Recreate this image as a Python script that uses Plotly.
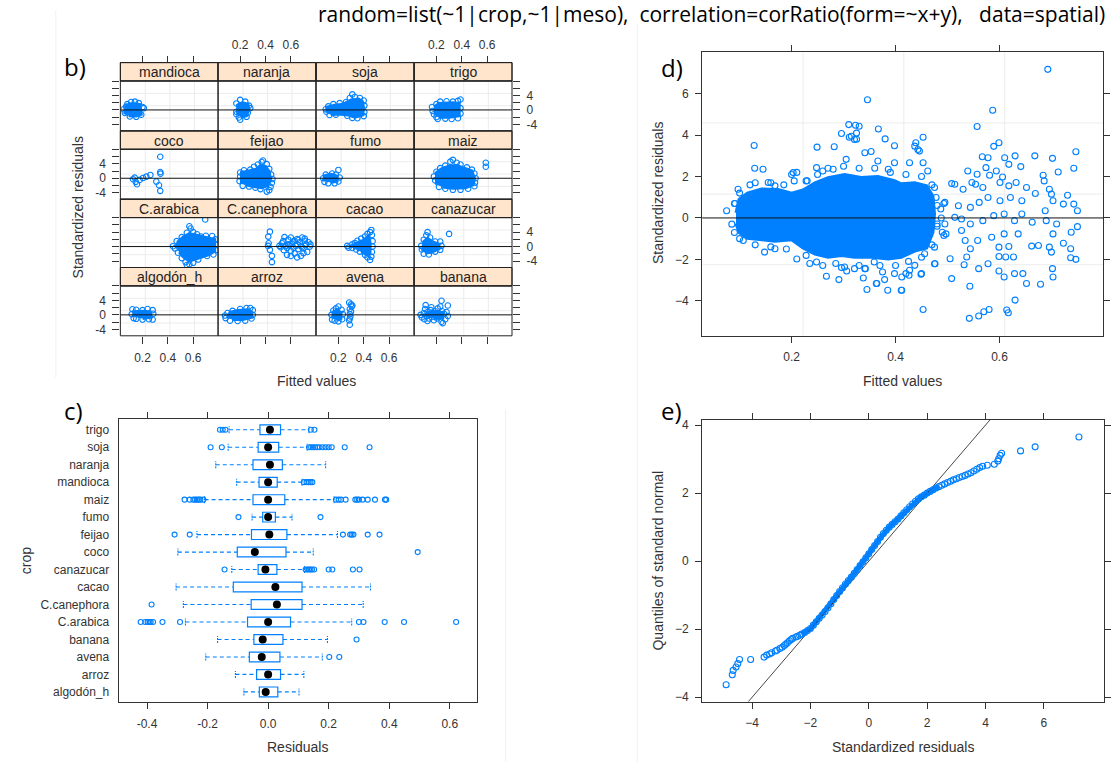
import plotly.graph_objects as go

W, H = 1111, 765
BLUE = "#0080ff"
AXC = "#333333"
TICKFONT = dict(family="Liberation Sans, Arial, sans-serif", size=12, color="#333333")

# ------------------------------------------------------------------ data
title_text = "random=list(~1|crop,~1|meso), \u00a0correlation=corRatio(form=~x+y), \u00a0\u00a0data=spatial)"

# ---- b) trellis of standardized residuals vs fitted values, by crop
fit_range_b = [0.025, 0.797]
res_range_b = [-5.8, 8.02]
fit_ticks = [0.2, 0.4, 0.6]
fit_labels = ["0.2", "0.4", "0.6"]
res_ticks_b = [-4, -2, 0, 2, 4, 6, 8]
res_labels_b = ["-4", "", "0", "", "4", "", ""]
grid_fit = [0.222, 0.416, 0.61]
grid_res = [4.59, 1.15, -2.26]

facet_rows = [["mandioca", "naranja", "soja", "trigo"],
              ["coco", "feijao", "fumo", "maiz"],
              ["C.arabica", "C.canephora", "cacao", "canazucar"],
              ["algodón_h", "arroz", "avena", "banana"]]

core_mandioca = [(0.06, -1.2), (0.07, 1.3), (0.12, 1.8), (0.18, 1.5), (0.19, -1.2), (0.15, -1.7), (0.09, -1.6)]
pts_mandioca = [(0.05, 0.2), (0.06, -0.8), (0.08, 1.6), (0.11, 2.2), (0.14, 2.3), (0.17, 1.9), (0.2, 0.8),
                (0.19, -1.3), (0.15, -1.9), (0.1, -1.8), (0.07, 0.9), (0.16, 0.2), (0.21, 0.5)]
core_naranja = [(0.18, -1.5), (0.18, 1.4), (0.22, 2.0), (0.26, 1.6), (0.27, 0.2), (0.25, -1.6), (0.21, -2.0)]
pts_naranja = [(0.2, 2.8), (0.17, 1.8), (0.24, 2.3), (0.27, 1.2), (0.28, 0.5), (0.17, -0.5), (0.17, -1.2),
               (0.19, -2.1), (0.2, -2.7), (0.25, -1.9), (0.26, -0.8), (0.23, 0.6)]
core_soja = [(0.11, -0.8), (0.11, 0.8), (0.17, 1.3), (0.24, 1.6), (0.3, 2.8), (0.36, 3.0), (0.39, 2.3),
             (0.4, 0.4), (0.39, -1.4), (0.33, -2.0), (0.28, -1.4), (0.2, -1.1), (0.14, -1.3)]
pts_soja = [(0.1, 0.2), (0.105, -0.5), (0.12, 1.0), (0.16, 1.6), (0.21, 1.9), (0.26, 2.2), (0.29, 3.3),
            (0.31, 4.3), (0.33, 3.6), (0.37, 3.3), (0.4, 2.6), (0.405, 1.2), (0.405, -0.6), (0.4, -1.7),
            (0.35, -2.3), (0.31, -2.2), (0.27, -1.6), (0.18, -1.3), (0.13, -1.4)]
core_trigo = [(0.19, -1.5), (0.19, 1.0), (0.22, 1.8), (0.33, 2.0), (0.38, 1.8), (0.38, -1.6), (0.3, -2.0), (0.22, -2.0)]
pts_trigo = [(0.165, 0.8), (0.17, -0.3), (0.18, -1.2), (0.2, 1.6), (0.23, 2.3), (0.28, 2.4), (0.33, 2.3),
             (0.37, 2.5), (0.39, 2.9), (0.39, 0.5), (0.39, -1.0), (0.37, -2.3), (0.32, -2.5), (0.27, -2.4),
             (0.21, -2.5), (0.2, -2.0)]
core_coco = []
pts_coco = [(0.34, 5.96), (0.34, 1.74), (0.342, 1.28), (0.309, -0.92), (0.33, -1.93), (0.34, -3.49),
            (0.125, -0.28), (0.146, -1.0), (0.156, -1.65), (0.177, -0.46), (0.204, 0.09), (0.23, 0.46),
            (0.262, 0.92), (0.138, 0.18)]
core_feijao = [(0.21, -1.6), (0.21, 1.6), (0.27, 2.0), (0.33, 2.6), (0.36, 3.5), (0.4, 3.3), (0.43, 1.8),
               (0.44, -0.5), (0.42, -2.0), (0.37, -2.6), (0.3, -2.2), (0.25, -1.9)]
pts_feijao = [(0.2, 0.5), (0.195, -0.8), (0.2, 1.6), (0.23, 2.2), (0.28, 2.4), (0.31, 3.2), (0.34, 3.8),
              (0.37, 4.5), (0.38, 4.9), (0.41, 3.9), (0.43, 2.6), (0.445, 1.0), (0.455, -0.2), (0.45, -1.3),
              (0.44, -2.4), (0.43, -3.3), (0.41, -3.7), (0.36, -3.0), (0.32, -2.6), (0.27, -2.3), (0.22, -2.1)]
core_fumo = [(0.085, -0.8), (0.09, 0.7), (0.14, 1.1), (0.19, 0.6), (0.19, -0.8), (0.14, -1.2)]
pts_fumo = [(0.08, 0.0), (0.1, 1.0), (0.15, 1.3), (0.18, 1.0), (0.2, 2.3), (0.21, 0.2), (0.2, -0.9),
            (0.17, -1.4), (0.12, -1.4), (0.09, -1.0)]
core_maiz = [(0.2, -1.8), (0.2, 1.5), (0.24, 2.6), (0.3, 3.4), (0.36, 3.5), (0.42, 2.8), (0.48, 2.0),
             (0.5, 0.0), (0.49, -1.8), (0.43, -2.6), (0.33, -2.8), (0.25, -2.4)]
pts_maiz = [(0.18, 0.5), (0.19, -0.6), (0.2, 1.8), (0.23, 2.8), (0.27, 3.5), (0.31, 4.6), (0.33, 5.1),
            (0.36, 4.3), (0.39, 3.8), (0.44, 3.0), (0.48, 2.4), (0.5, 1.3), (0.51, 0.0), (0.505, -1.2),
            (0.5, -2.2), (0.45, -2.9), (0.39, -3.2), (0.33, -3.2), (0.27, -2.9), (0.22, -2.4), (0.59, 4.3),
            (0.59, 3.2)]
core_carabica = [(0.47, -0.6), (0.48, 1.3), (0.52, 2.6), (0.57, 3.6), (0.64, 3.0), (0.72, 2.5), (0.77, 2.0),
                 (0.77, -1.3), (0.72, -2.3), (0.63, -3.3), (0.57, -4.0), (0.52, -2.8), (0.49, -1.5)]
pts_carabica = [(0.44, 0.1), (0.455, -0.5), (0.47, 1.5), (0.51, 2.6), (0.55, 3.8), (0.58, 5.0), (0.57, 5.6),
                (0.6, 4.0), (0.63, 3.4), (0.66, 2.8), (0.7, 3.0), (0.695, 7.5), (0.75, 2.9), (0.775, 2.0),
                (0.78, 0.5), (0.78, -1.0), (0.76, -2.2), (0.71, -2.6), (0.68, -2.0), (0.64, -3.6), (0.6, -4.5),
                (0.57, -4.9), (0.54, -4.3), (0.51, -3.2), (0.48, -1.7), (0.55, -5.1)]
core_ccanephora = []
pts_ccanephora = [(0.422, 2.75), (0.435, 4.13), (0.425, 0.92), (0.435, -0.92), (0.451, -2.57), (0.451, -4.3),
                  (0.42, 0.2), (0.51, 0.2), (0.52, -0.2), (0.53, 0.9), (0.54, 1.5), (0.55, 2.6), (0.56, 0.1),
                  (0.57, -0.4), (0.58, 1.9), (0.59, 0.3), (0.6, -1.2), (0.6, 2.5), (0.61, 0.8), (0.62, -0.3),
                  (0.63, 1.6), (0.64, 0.2), (0.65, 2.1), (0.66, -0.7), (0.67, 1.2), (0.68, 0.1), (0.69, 2.5),
                  (0.7, -0.5), (0.71, 1.6), (0.72, 0.5), (0.73, -1.5), (0.74, 1.2), (0.75, 0.0), (0.755, 0.6),
                  (0.57, -2.3), (0.6, -2.6), (0.63, -1.9), (0.65, -3.0), (0.68, -2.6), (0.7, -1.8), (0.545, -1.0),
                  (0.62, 1.4), (0.58, 0.6), (0.66, 1.8), (0.69, -0.2), (0.71, 2.2)]
core_cacao = [(0.29, 0.0), (0.4, 1.8), (0.44, 3.0), (0.45, 1.0), (0.45, -1.5), (0.44, -2.5), (0.38, -1.5)]
pts_cacao = [(0.27, 0.2), (0.28, -0.3), (0.31, 0.6), (0.33, 1.0), (0.35, 1.6), (0.38, 2.2), (0.41, 2.8),
             (0.43, 3.5), (0.45, 4.0), (0.46, 4.6), (0.465, 3.2), (0.47, 1.5), (0.47, 0.0), (0.465, -1.5),
             (0.46, -2.8), (0.45, -3.7), (0.43, -3.0), (0.41, -2.3), (0.37, -1.4), (0.34, -0.8), (0.31, -0.4)]
core_canazucar = [(0.09, -1.2), (0.1, 1.4), (0.13, 2.2), (0.17, 1.3), (0.22, 0.6), (0.22, -0.6), (0.16, -1.6), (0.11, -1.8)]
pts_canazucar = [(0.08, 0.2), (0.085, -0.8), (0.1, 1.9), (0.12, 3.1), (0.13, 4.0), (0.15, 2.5), (0.19, 1.4),
                 (0.23, 1.4), (0.24, 0.2), (0.23, -0.9), (0.19, -1.4), (0.14, -2.2), (0.1, -2.0), (0.3, 3.5)]
core_algodon = [(0.13, -0.6), (0.13, 0.9), (0.2, 1.0), (0.26, 0.9), (0.27, -0.6), (0.2, -1.0)]
pts_algodon = [(0.12, 1.56), (0.115, 0.2), (0.15, 1.4), (0.2, 1.3), (0.24, 1.6), (0.28, 1.3), (0.285, 0.3),
               (0.28, -1.3), (0.25, -1.2), (0.2, -1.3), (0.15, -1.1), (0.13, -0.9)]
core_arroz = [(0.1, -0.9), (0.12, 0.7), (0.18, 1.2), (0.26, 1.4), (0.29, 0.8), (0.29, -0.7), (0.22, -1.3), (0.14, -1.3)]
pts_arroz = [(0.08, -0.2), (0.085, -0.9), (0.1, 0.5), (0.14, 1.1), (0.2, 1.6), (0.25, 1.9), (0.28, 1.9),
             (0.3, 1.3), (0.3, 0.0), (0.29, -1.0), (0.24, -1.6), (0.18, -1.7), (0.12, -1.6)]
core_avena = [(0.155, -1.0), (0.16, 0.8), (0.19, 1.4), (0.22, 0.6), (0.22, -1.0), (0.19, -1.5)]
pts_avena = [(0.145, 0.0), (0.15, -1.3), (0.16, 1.2), (0.18, 1.8), (0.2, 2.3), (0.225, 1.4), (0.235, 0.2),
             (0.23, -1.2), (0.2, -1.8), (0.17, -1.6), (0.285, 3.4), (0.3, 2.9), (0.305, 2.3), (0.29, 1.6),
             (0.3, 0.9), (0.29, 0.2), (0.295, -0.46), (0.29, -1.0), (0.285, -1.56), (0.29, -2.75), (0.31, 2.6)]
core_banana = [(0.12, -0.6), (0.13, 0.6), (0.2, 0.9), (0.25, 0.5), (0.25, -0.8), (0.18, -1.0)]
pts_banana = [(0.075, 0.0), (0.085, -0.7), (0.1, 0.5), (0.105, -1.2), (0.11, 1.6), (0.115, 2.7), (0.12, -0.3),
              (0.13, 0.8), (0.14, -1.0), (0.15, 0.2), (0.155, 1.3), (0.165, -0.6), (0.17, 0.5), (0.18, -1.5),
              (0.19, 1.0), (0.2, 0.0), (0.205, -1.0), (0.21, 1.8), (0.22, 0.4), (0.225, -0.5), (0.23, 2.3),
              (0.24, 3.9), (0.24, -1.9), (0.245, 1.0), (0.25, -2.3), (0.26, 0.3), (0.27, -1.2), (0.28, 0.8),
              (0.29, 2.6), (0.29, -0.3), (0.13, -1.7), (0.16, 2.1)]

# ---- d) all points
fit_range_d = [0.028, 0.80]
res_range_d = [-5.68, 8.0]
core_d = [(0.093, 0.25), (0.099, 0.9), (0.115, 1.2), (0.142, 1.4), (0.174, 1.38), (0.200, 1.2),
          (0.222, 1.35), (0.245, 1.7), (0.270, 1.95), (0.302, 2.1), (0.334, 1.95), (0.366, 2.0),
          (0.398, 1.8), (0.411, 1.65), (0.437, 1.7), (0.46, 1.55), (0.472, 1.05), (0.475, 0.19),
          (0.472, -0.7), (0.46, -1.45), (0.437, -1.6), (0.411, -1.9), (0.386, -1.98), (0.353, -1.9),
          (0.321, -1.9), (0.296, -1.82), (0.270, -1.9), (0.245, -1.75), (0.222, -1.45), (0.200, -1.05),
          (0.168, -1.12), (0.142, -1.05), (0.115, -0.98), (0.099, -0.7), (0.093, -0.27)]
fringe_d = [(0.075, 0.35), (0.09, 0.7), (0.085, -0.3), (0.09, -0.7), (0.1, -1.0), (0.1, 1.2), (0.12, 1.6),
            (0.13, 1.7), (0.16, 1.7), (0.185, 1.6), (0.2, 2.1), (0.21, 2.2), (0.13, -1.3), (0.16, -1.4),
            (0.19, -1.5), (0.235, -2.2), (0.26, -2.3), (0.285, -2.2), (0.33, -2.3), (0.37, -2.3), (0.4, -2.3),
            (0.425, -2.1), (0.45, -1.9), (0.47, -1.3), (0.48, -0.4), (0.48, 0.6), (0.47, 1.6), (0.45, 2.0),
            (0.42, 2.1), (0.39, 2.2), (0.36, 2.4), (0.33, 2.4), (0.3, 2.5), (0.27, 2.4), (0.25, 2.1), (0.23, 1.8),
            (0.129, 2.40), (0.145, 2.35), (0.097, 1.39), (0.091, 0.70), (0.155, 1.71), (0.168, 1.55),
            (0.203, 2.19), (0.205, 1.79), (0.228, 1.79), (0.248, 2.43), (0.26, 2.27), (0.28, 2.35), (0.305, 2.83),
            (0.315, 3.95), (0.321, 3.79), (0.341, 3.15), (0.353, 3.21), (0.366, 2.75), (0.398, 2.67), (0.386, 2.35),
            (0.427, 2.67), (0.437, 3.47), (0.443, 3.31), (0.453, 2.67), (0.462, 2.27), (0.475, 1.47), (0.478, 0.99),
            (0.495, 0.75), (0.514, 1.63), (0.488, 0.0), (0.497, -0.77), (0.495, -0.29), (0.107, -1.09),
            (0.148, -1.65), (0.168, -1.49), (0.228, -1.81), (0.248, -2.13), (0.302, -2.37), (0.321, -2.45),
            (0.341, -2.45), (0.363, -3.17), (0.411, -3.49), (0.375, -2.61), (0.398, -2.69), (0.42, -2.69),
            (0.437, -2.29), (0.45, -2.69), (0.456, -1.73), (0.475, -2.21), (0.475, -1.41), (0.359, -2.13),
            (0.283, -1.73)]
scatter_d = [(0.693, 7.18), (0.346, 5.71), (0.587, 5.2), (0.557, 4.42), (0.31, 4.51), (0.323, 4.48), (0.33, 4.43),
             (0.367, 4.3), (0.296, 4.08), (0.311, 3.9), (0.325, 4.1), (0.325, 3.8), (0.38, 3.82), (0.453, 3.9),
             (0.439, 3.63), (0.446, 3.23), (0.398, 3.49), (0.249, 3.42), (0.282, 3.44), (0.128, 3.5), (0.599, 3.63),
             (0.589, 3.46), (0.747, 3.2), (0.702, 2.88), (0.668, 3.0), (0.63, 3.0), (0.567, 2.96), (0.578, 2.91),
             (0.61, 2.91), (0.743, 2.4), (0.713, 2.22), (0.641, 2.48), (0.618, 2.59), (0.539, 2.27), (0.684, 2.06),
             (0.508, 1.66), (0.731, 1.1), (0.652, 1.47), (0.581, 2.06), (0.554, 1.63), (0.568, 1.47), (0.669, 1.18),
             (0.743, 0.67), (0.75, 0.35), (0.75, -0.42), (0.738, -0.69), (0.723, -1.22), (0.737, -1.49),
             (0.747, -2.0), (0.737, -1.92), (0.702, -2.45), (0.703, -2.85), (0.652, -3.17), (0.679, -3.2),
             (0.645, -2.69), (0.629, -2.69), (0.63, -3.97), (0.614, -4.45), (0.617, -4.58), (0.58, -4.42),
             (0.57, -4.53), (0.56, -4.74), (0.542, -4.85), (0.453, -4.42), (0.543, -3.3), (0.532, -2.26),
             (0.505, -1.97), (0.508, -2.93), (0.56, -2.45), (0.578, -2.21), (0.599, -1.86), (0.612, -1.89),
             (0.627, -1.89), (0.599, -2.56), (0.609, -2.85), (0.662, -1.36), (0.675, -1.33), (0.696, -1.41),
             (0.7, -1.65), (0.493, -0.85), (0.476, -2.21), (0.427, -2.53), (0.412, -2.85), (0.385, -3.49),
             (0.345, -3.46), (0.412, -3.49), (0.449, -2.72), (0.364, -3.17), (0.338, -2.9), (0.291, -2.98),
             (0.267, -2.82), (0.379, -2.98), (0.426, -2.77), (0.306, -2.56), (0.296, -2.4), (0.342, -2.45),
             (0.21, -1.98), (0.534, -1.09), (0.544, -1.49), (0.558, -1.09), (0.585, -0.93), (0.609, -0.77),
             (0.636, -0.77), (0.599, -1.41), (0.618, -1.38), (0.527, -0.05), (0.544, -0.29), (0.568, -0.13),
             (0.589, 0.11), (0.609, 0.19), (0.629, -0.13), (0.643, 0.19), (0.663, -0.21), (0.69, -0.13),
             (0.71, -0.29), (0.703, -0.77), (0.688, 0.35), (0.703, 0.83), (0.723, 0.67), (0.544, 0.51),
             (0.561, 0.75), (0.578, 0.99), (0.601, 0.83), (0.621, 0.99), (0.643, 0.83), (0.53, 1.39), (0.547, 1.71),
             (0.601, 1.71), (0.618, 1.55), (0.632, 1.71), (0.686, 1.79), (0.696, 1.39), (0.7, 1.15), (0.487, 0.43),
             (0.493, 0.7), (0.48, -0.29), (0.49, -0.69), (0.521, 0.59), (0.514, 0.03), (0.527, -0.61),
             (0.537, -1.89), (0.594, 2.27), (0.606, 1.98), (0.574, 2.43), (0.557, 2.11)]
grid_fit_d = [0.222, 0.416, 0.61]
grid_res_d = [4.59, 1.15, -2.26]

# ---- c) boxplots of residuals by crop (bottom to top)
crops_c = ["algodón_h", "arroz", "avena", "banana", "C.arabica", "C.canephora", "cacao", "canazucar",
           "coco", "feijao", "fumo", "maiz", "mandioca", "naranja", "soja", "trigo"]
q1_c = [-0.029, -0.038, -0.062, -0.047, -0.068, -0.056, -0.115, -0.033, -0.102, -0.055, -0.018, -0.05, -0.03, -0.05, -0.033, -0.027]
med_c = [-0.008, 0.0, -0.021, -0.018, 0.0, 0.029, 0.024, -0.009, -0.044, 0.004, 0.0, 0.0, 0.0, 0.006, 0.0, 0.006]
q3_c = [0.032, 0.041, 0.039, 0.049, 0.074, 0.112, 0.112, 0.029, 0.059, 0.062, 0.024, 0.055, 0.03, 0.047, 0.035, 0.041]
wlo_c = [-0.08, -0.108, -0.206, -0.167, -0.273, -0.28, -0.304, -0.12, -0.298, -0.235, -0.053, -0.21, -0.104, -0.173, -0.132, -0.129]
whi_c = [0.102, 0.118, 0.179, 0.196, 0.276, 0.314, 0.338, 0.12, 0.149, 0.229, 0.079, 0.218, 0.112, 0.19, 0.129, 0.135]
out_c = [[], [], [0.202, 0.235], [0.292],
         [-0.421, -0.406, -0.398, -0.392, -0.388, -0.38, -0.349, -0.291, 0.3, 0.315, 0.385, 0.449, 0.621],
         [-0.385], [], [-0.144, 0.124, 0.13, 0.135, 0.14, 0.145, 0.152, 0.2, 0.212, 0.28, 0.302],
         [0.494], [-0.309, -0.259, 0.247, 0.271, 0.276, 0.282, 0.329, 0.368], [-0.098, 0.173],
         [-0.276, -0.259, -0.247, -0.241, -0.235, -0.229, -0.224, -0.214, 0.224, 0.233, 0.241, 0.256, 0.288,
          0.294, 0.3, 0.312, 0.329, 0.353, 0.386, 0.39],
         [0.118, 0.127, 0.134, 0.14, 0.146], [],
         [-0.19, -0.153, 0.135, 0.142, 0.148, 0.155, 0.162, 0.17, 0.18, 0.19, 0.2, 0.21, 0.253, 0.335],
         [-0.159, -0.15, -0.141, 0.141, 0.153]]
resid_range_c = [-0.494, 0.691]
resid_ticks_c = [-0.4, -0.2, 0.0, 0.2, 0.4, 0.6]
resid_labels_c = ["-0.4", "-0.2", "0.0", "0.2", "0.4", "0.6"]

# ---- e) normal QQ plot (standardized residual, normal quantile)
qq_pts = [(-4.89, -3.63), (-4.68, -3.34), (-4.65, -3.21), (-4.55, -3.11), (-4.49, -3.01), (-4.43, -2.89),
          (-4.05, -2.89), (-3.59, -2.82), (-3.5, -2.76), (-3.4, -2.73), (-3.33, -2.69), (-3.2, -2.64),
          (-3.15, -2.62), (-3.05, -2.57), (-2.97, -2.53), (-2.9, -2.48), (-2.85, -2.44), (-2.79, -2.40),
          (-2.72, -2.34), (-2.66, -2.30), (-2.61, -2.27), (-2.5, -2.23), (-2.44, -2.21), (-2.37, -2.18),
          (-2.3, -2.14), (-2.2, -2.10), (-2.1, -2.04), (-2.0, -1.98), (-1.9, -1.88), (-1.8, -1.78),
          (-1.7, -1.68), (-1.6, -1.58), (-1.5, -1.48), (-1.4, -1.37), (-1.3, -1.25), (-1.2, -1.13),
          (-1.1, -1.01), (-1.0, -0.89), (-0.9, -0.78), (-0.8, -0.67), (-0.7, -0.57), (-0.6, -0.47),
          (-0.5, -0.36), (-0.4, -0.25), (-0.3, -0.13), (-0.2, -0.02), (-0.1, 0.10), (0.0, 0.22), (0.1, 0.34),
          (0.2, 0.46), (0.3, 0.58), (0.4, 0.70), (0.5, 0.81), (0.6, 0.91), (0.7, 1.0), (0.8, 1.08), (0.9, 1.16),
          (1.0, 1.24), (1.1, 1.33), (1.2, 1.42), (1.3, 1.51), (1.4, 1.60), (1.5, 1.68), (1.6, 1.76), (1.7, 1.83),
          (1.8, 1.89), (1.9, 1.94), (2.0, 2.0), (2.1, 2.05), (2.2, 2.10), (2.3, 2.15), (2.4, 2.19), (2.5, 2.23),
          (2.6, 2.27), (2.7, 2.31), (2.8, 2.35), (2.9, 2.39), (3.0, 2.42), (3.1, 2.46), (3.2, 2.49), (3.3, 2.52),
          (3.4, 2.56), (3.5, 2.60), (3.6, 2.65), (3.7, 2.70), (3.8, 2.75), (3.9, 2.79), (4.06, 2.82),
          (4.3, 2.85), (4.42, 2.94), (4.45, 3.01), (4.5, 3.11), (4.55, 3.17), (5.2, 3.24), (5.7, 3.36),
          (7.2, 3.65)]
qq_dense_span = (-2.35, 2.45)   # residual range where the points overlap into a solid band
qq_slope, qq_intercept = 1.0, 0.0
sres_range_e = [-5.71, 8.06]
q_range_e = [-4.13, 4.15]

# ------------------------------------------------------------------ helpers
def px(x):
    return x / W

def py(y):
    return 1 - y / H

facet_data = {
    "mandioca": (core_mandioca, pts_mandioca), "naranja": (core_naranja, pts_naranja),
    "soja": (core_soja, pts_soja), "trigo": (core_trigo, pts_trigo),
    "coco": (core_coco, pts_coco), "feijao": (core_feijao, pts_feijao),
    "fumo": (core_fumo, pts_fumo), "maiz": (core_maiz, pts_maiz),
    "C.arabica": (core_carabica, pts_carabica), "C.canephora": (core_ccanephora, pts_ccanephora),
    "cacao": (core_cacao, pts_cacao), "canazucar": (core_canazucar, pts_canazucar),
    "algodón_h": (core_algodon, pts_algodon), "arroz": (core_arroz, pts_arroz),
    "avena": (core_avena, pts_avena), "banana": (core_banana, pts_banana),
}

fig = go.Figure()
shapes, annots, lay = [], [], {}

def axname(kind, k):
    return kind if k == 1 else f"{kind}{k}"

def axkey(kind, k):
    return kind + ("axis" if k == 1 else f"axis{k}")

def tick_axis(**kw):
    base = dict(showgrid=False, zeroline=False, ticks="outside", ticklen=6, tickwidth=1,
                tickcolor=AXC, tickfont=TICKFONT, linecolor=AXC, linewidth=1, fixedrange=True,
                ticklabelstandoff=4)
    base.update(kw)
    return base

# ------------------------------------------------------------------ b) facets
col_left = [120.7, 218.6, 317.1, 415.4]
col_w = 98.0
strip_top0, row_pitch, strip_h = 61.0, 68.75, 18.5

for r, row in enumerate(facet_rows):
    for c, crop in enumerate(row):
        k = r * 4 + c + 1
        xa, ya = axname("x", k), axname("y", k)
        x0, x1 = col_left[c], col_left[c] + col_w
        st = strip_top0 + r * row_pitch
        ptop, pbot = st + strip_h, strip_top0 + (r + 1) * row_pitch
        xdom, ydom = [px(x0), px(x1)], [py(pbot), py(ptop)]

        if r == 3:
            xax = tick_axis(domain=xdom, range=fit_range_b, tickvals=fit_ticks,
                            ticktext=fit_labels if c % 2 == 0 else ["", "", ""], side="bottom",
                            anchor=ya, ticklen=7)
        elif r == 0:
            xax = tick_axis(domain=xdom, range=fit_range_b, tickvals=fit_ticks,
                            ticktext=fit_labels if c % 2 == 1 else ["", "", ""], side="top",
                            anchor="free", position=py(st), ticklen=7, ticklabelstandoff=2)
        else:
            xax = dict(domain=xdom, range=fit_range_b, visible=False, fixedrange=True)
        if c == 0:
            yax = tick_axis(domain=ydom, range=res_range_b, tickvals=res_ticks_b,
                            ticktext=res_labels_b if r % 2 == 1 else [""] * 7, side="left",
                            anchor=xa, ticklen=7)
        elif c == 3:
            yax = tick_axis(domain=ydom, range=res_range_b, tickvals=res_ticks_b,
                            ticktext=res_labels_b if r % 2 == 0 else [""] * 7, side="right",
                            anchor=xa, ticklen=7)
        else:
            yax = dict(domain=ydom, range=res_range_b, visible=False, fixedrange=True)
        xax["showline"] = False
        yax["showline"] = False
        lay[axkey("x", k)] = xax
        lay[axkey("y", k)] = yax

        core, pts = facet_data[crop]
        if core:
            fig.add_trace(go.Scatter(x=[p[0] for p in core], y=[p[1] for p in core], fill="toself",
                                     mode="lines", line=dict(width=3, color=BLUE), fillcolor=BLUE,
                                     xaxis=xa, yaxis=ya, hoverinfo="skip", showlegend=False))
        fig.add_trace(go.Scatter(x=[p[0] for p in pts], y=[p[1] for p in pts], mode="markers",
                                 marker=dict(symbol="circle-open", size=5.5, color=BLUE, line=dict(width=1.1)),
                                 xaxis=xa, yaxis=ya, hoverinfo="skip", showlegend=False))
        for g in grid_fit:
            shapes.append(dict(type="line", xref=xa, yref=f"{ya} domain", x0=g, x1=g, y0=0, y1=1,
                               line=dict(color="#ececec", width=1), layer="below"))
        for g in grid_res:
            shapes.append(dict(type="line", xref=f"{xa} domain", yref=ya, x0=0, x1=1, y0=g, y1=g,
                               line=dict(color="#ececec", width=1), layer="below"))
        shapes.append(dict(type="line", xref=f"{xa} domain", yref=ya, x0=0, x1=1, y0=0, y1=0,
                           line=dict(color="#111111", width=1)))
        shapes.append(dict(type="rect", xref="paper", yref="paper", x0=px(x0), x1=px(x1),
                           y0=py(pbot), y1=py(ptop), line=dict(color="#222222", width=1)))
        shapes.append(dict(type="rect", xref="paper", yref="paper", x0=px(x0), x1=px(x1),
                           y0=py(ptop), y1=py(st), fillcolor="#ffe5cc", line=dict(color="#222222", width=1),
                           layer="below"))
        shapes.append(dict(type="rect", xref="paper", yref="paper", x0=px(x0), x1=px(x1),
                           y0=py(ptop), y1=py(st), line=dict(color="#222222", width=1)))
        annots.append(dict(x=px((x0 + x1) / 2), y=py(st + strip_h / 2 + 0.5), xref="paper", yref="paper",
                           text=crop, showarrow=False, xanchor="center", yanchor="middle",
                           font=dict(family="Liberation Sans, Arial, sans-serif", size=14, color="#222222")))

# ------------------------------------------------------------------ d) residuals vs fitted
kd = 17
lay[axkey("x", kd)] = tick_axis(domain=[px(704.1), px(1106.4)], range=fit_range_d, tickvals=fit_ticks,
                                ticktext=fit_labels, anchor="y17", showline=True, mirror="ticks")
lay[axkey("y", kd)] = tick_axis(domain=[py(335.7), py(50.7)], range=res_range_d,
                                tickvals=[-4, -2, 0, 2, 4, 6], anchor="x17", showline=True, mirror="ticks")
for g in grid_fit_d:
    shapes.append(dict(type="line", xref="x17", yref="y17 domain", x0=g, x1=g, y0=0, y1=1,
                       line=dict(color="#ececec", width=1), layer="below"))
for g in grid_res_d:
    shapes.append(dict(type="line", xref="x17 domain", yref="y17", x0=0, x1=1, y0=g, y1=g,
                       line=dict(color="#ececec", width=1), layer="below"))
fig.add_trace(go.Scatter(x=[p[0] for p in core_d], y=[p[1] for p in core_d], fill="toself", mode="lines",
                         line=dict(width=3, color=BLUE), fillcolor=BLUE, xaxis="x17", yaxis="y17",
                         hoverinfo="skip", showlegend=False))
dpts = fringe_d + scatter_d
fig.add_trace(go.Scatter(x=[p[0] for p in dpts], y=[p[1] for p in dpts], mode="markers",
                         marker=dict(symbol="circle-open", size=6, color=BLUE, line=dict(width=1.1)),
                         xaxis="x17", yaxis="y17", hoverinfo="skip", showlegend=False))
shapes.append(dict(type="line", xref="x17 domain", yref="y17", x0=0, x1=1, y0=0, y1=0,
                   line=dict(color="#111111", width=1)))

# ------------------------------------------------------------------ c) boxplots
kc = 18
ypos = list(range(1, len(crops_c) + 1))
lay[axkey("x", kc)] = tick_axis(domain=[px(118.9), px(478.6)], range=resid_range_c, tickvals=resid_ticks_c,
                                ticktext=resid_labels_c, anchor="y18", showline=True, mirror="ticks")
lay[axkey("y", kc)] = tick_axis(domain=[py(705), py(420)], range=[0.4, 16.6], tickvals=ypos, ticktext=crops_c,
                                ticks="", anchor="x18", showline=True, mirror=True, ticklabelstandoff=6)
fig.add_trace(go.Bar(y=ypos, x=[b - a for a, b in zip(q1_c, q3_c)], base=q1_c, orientation="h", width=0.56,
                     marker=dict(color="rgba(0,0,0,0)", line=dict(color=BLUE, width=1.2)),
                     xaxis="x18", yaxis="y18", hoverinfo="skip", showlegend=False))
wx, wy, cx, cy = [], [], [], []
for i, yv in enumerate(ypos):
    wx += [wlo_c[i], q1_c[i], None, q3_c[i], whi_c[i], None]
    wy += [yv, yv, None, yv, yv, None]
    for e in (wlo_c[i], whi_c[i]):
        cx += [e, e, None]
        cy += [yv - 0.2, yv + 0.2, None]
fig.add_trace(go.Scatter(x=wx, y=wy, mode="lines", line=dict(color=BLUE, width=1.1, dash="4px,3px"),
                         xaxis="x18", yaxis="y18", hoverinfo="skip", showlegend=False))
fig.add_trace(go.Scatter(x=cx, y=cy, mode="lines", line=dict(color=BLUE, width=1.1, dash="2px,1px"),
                         xaxis="x18", yaxis="y18", hoverinfo="skip", showlegend=False))
ox, oy = [], []
for i, outs in enumerate(out_c):
    ox += outs
    oy += [ypos[i]] * len(outs)
fig.add_trace(go.Scatter(x=ox, y=oy, mode="markers",
                         marker=dict(symbol="circle-open", size=5, color=BLUE, line=dict(width=1.1)),
                         xaxis="x18", yaxis="y18", hoverinfo="skip", showlegend=False))
fig.add_trace(go.Scatter(x=med_c, y=ypos, mode="markers", marker=dict(symbol="circle", size=8, color="black"),
                         xaxis="x18", yaxis="y18", hoverinfo="skip", showlegend=False))

# ------------------------------------------------------------------ e) QQ plot
ke = 19
lay[axkey("x", ke)] = tick_axis(domain=[px(704.1), px(1107)], range=sres_range_e, tickvals=[-4, -2, 0, 2, 4, 6],
                                anchor="y19", showline=True, mirror="ticks")
lay[axkey("y", ke)] = tick_axis(domain=[py(704.3), py(420.7)], range=q_range_e, tickvals=[-4, -2, 0, 2, 4],
                                anchor="x19", showline=True, mirror="ticks")
dense = [p for p in qq_pts if qq_dense_span[0] <= p[0] <= qq_dense_span[1]]
fig.add_trace(go.Scatter(x=[p[0] for p in dense], y=[p[1] for p in dense], mode="lines",
                         line=dict(color=BLUE, width=5), xaxis="x19", yaxis="y19",
                         hoverinfo="skip", showlegend=False))
line_y = q_range_e
line_x = [(v - qq_intercept) / qq_slope for v in line_y]
fig.add_trace(go.Scatter(x=line_x, y=line_y, mode="lines", line=dict(color="#333333", width=0.9),
                         xaxis="x19", yaxis="y19", hoverinfo="skip", showlegend=False))
fig.add_trace(go.Scatter(x=[p[0] for p in qq_pts], y=[p[1] for p in qq_pts], mode="markers",
                         marker=dict(symbol="circle-open", size=6, color=BLUE, line=dict(width=1.1)),
                         xaxis="x19", yaxis="y19", hoverinfo="skip", showlegend=False))

# ------------------------------------------------------------------ texts
def ann(x, y, text, size=14, angle=0, xanchor="center", family="Liberation Sans, Arial, sans-serif",
        color="#333333"):
    annots.append(dict(x=px(x), y=py(y), xref="paper", yref="paper", text=text, showarrow=False,
                       xanchor=xanchor, yanchor="middle", textangle=angle,
                       font=dict(family=family, size=size, color=color)))

ann(1110, 12.5, title_text, size=21, xanchor="right", family="Open Sans, sans-serif", color="#000000")
for lx, ly, lt in [(62, 65, "b)"), (661, 66, "d)"), (62, 411, "c)"), (661, 411, "e)")]:
    ann(lx, ly, lt, size=24, xanchor="left", family="Open Sans, sans-serif", color="#000000")
ann(78, 207, "Standardized residuals", angle=-90)
ann(317, 381, "Fitted values")
ann(660, 192, "Standardized residuals", angle=-90)
ann(905, 381, "Fitted values")
ann(26, 562, "crop", angle=-90)
ann(298, 750, "Residuals")
ann(660, 562, "Quantiles of standard normal", angle=-90)
ann(905, 750, "Standardized residuals")

for sx0, sy0, sx1, sy1 in [(56, 8, 56, 378), (507, 410, 507, 765), (639, 22, 639, 765)]:
    shapes.append(dict(type="line", xref="paper", yref="paper", x0=px(sx0), x1=px(sx1), y0=py(sy0), y1=py(sy1),
                       line=dict(color="#f0f0f0", width=1), layer="below"))

fig.update_layout(width=W, height=H, margin=dict(l=0, r=0, t=0, b=0), paper_bgcolor="white",
                  plot_bgcolor="rgba(0,0,0,0)", showlegend=False, shapes=shapes, annotations=annots,
                  barmode="overlay", **lay)
fig.write_html("out.html", config={"displayModeBar": False},
               post_script="document.body.style.margin='0';document.body.style.padding='0';"
                           "document.body.style.overflow='hidden';")
